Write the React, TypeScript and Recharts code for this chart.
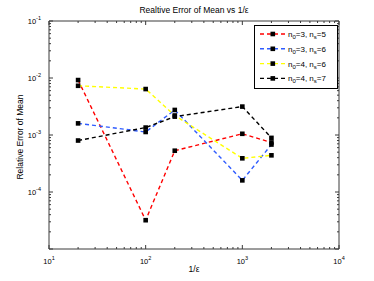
import React from 'react';
import { LineChart, Line, XAxis, YAxis, Legend } from 'recharts';

// 1/eps values (x) and relative error of mean per (n0, ns) combination
const invEps = [20, 100, 200, 1000, 2000];
const errN3S5 = [9.2e-3, 3.2e-5, 5.3e-4, 1.05e-3, 7.4e-4];
const errN3S6 = [1.6e-3, 1.13e-3, 2.75e-3, 1.6e-4, 6.8e-4];
const errN4S6 = [7.3e-3, 6.4e-3, 2.2e-3, 3.9e-4, 4.4e-4];
const errN4S7 = [8.0e-4, 1.35e-3, 2.1e-3, 3.15e-3, 8.9e-4];

const n0Values = [3, 3, 4, 4];
const nsValues = [5, 6, 6, 7];
const seriesKeys = ['s35', 's36', 's46', 's47'];
const seriesColors = ['#ff0000', '#2f5cff', '#ffff00', '#000000'];

const xMajor = [10, 100, 1000, 10000];
const yMajor = [1e-5, 1e-4, 1e-3, 1e-2, 1e-1];
const yHidden = [1e-5];

const FONT = '"Liberation Sans", Arial, Helvetica, sans-serif';
const AXIS = '#3a3a3a';

const withMinors = (majors: number[]) => {
  const out: number[] = [];
  majors.forEach((m, i) => {
    out.push(m);
    if (i < majors.length - 1) for (let k = 2; k <= 9; k++) out.push(m * k);
  });
  return out;
};
const xTicks = withMinors(xMajor);
const yTicks = withMinors(yMajor);

const isMajor = (v: number) => {
  const l = Math.log10(v);
  return Math.abs(l - Math.round(l)) < 1e-6;
};

const data = invEps.map((x, i) => ({
  x,
  s35: errN3S5[i],
  s36: errN3S6[i],
  s46: errN4S6[i],
  s47: errN4S7[i],
}));

const Pow = ({ x, y, v, anchor }: { x: number; y: number; v: number; anchor: 'middle' | 'end' }) => (
  <text x={x} y={y} textAnchor={anchor} fontSize={7.5} fontFamily={FONT} fill="#000">
    <tspan>10</tspan>
    <tspan dy={-4} fontSize={5.5}>{Math.round(Math.log10(v))}</tspan>
  </text>
);

const makeTick = (side: 'bottom' | 'top' | 'left' | 'right') => (props: any) => {
  const { x, y, payload } = props;
  const v = payload.value;
  const major = isMajor(v);
  const len = major ? 4 : 2;
  let line;
  if (side === 'bottom') line = <line x1={x} y1={y} x2={x} y2={y - len} stroke={AXIS} />;
  else if (side === 'top') line = <line x1={x} y1={y} x2={x} y2={y + len} stroke={AXIS} />;
  else if (side === 'left') line = <line x1={x} y1={y} x2={x + len} y2={y} stroke={AXIS} />;
  else line = <line x1={x} y1={y} x2={x - len} y2={y} stroke={AXIS} />;
  let label = null;
  if (major && side === 'bottom') label = <Pow x={x} y={y + 15} v={v} anchor="middle" />;
  if (major && side === 'left' && !yHidden.includes(v)) label = <Pow x={x - 8} y={y + 2.5} v={v} anchor="end" />;
  return (
    <g>
      {line}
      {label}
    </g>
  );
};

const square = (props: any) => {
  const { cx, cy, key } = props;
  if (cx == null || cy == null) return <g key={key} />;
  return <rect key={key} x={cx - 2.3} y={cy - 2.3} width={4.6} height={4.6} fill="#000" />;
};

const renderLegend = () => (
  <svg width={84} height={64} style={{ display: 'block' }}>
    <rect x={0.5} y={0.5} width={83} height={63} fill="#fff" stroke="#000" />
    {seriesColors.map((c, i) => {
      const cy = 9 + i * 14.8;
      return (
        <g key={seriesKeys[i]}>
          <line x1={6} y1={cy} x2={32} y2={cy} stroke={c} strokeWidth={1.4} strokeDasharray="4 3" />
          <rect x={16.5} y={cy - 2.3} width={4.6} height={4.6} fill="#000" />
          <text x={34} y={cy + 3} fontSize={8} fontFamily={FONT} fill="#000">
            <tspan>n</tspan>
            <tspan dy={2} fontSize={6}>0</tspan>
            <tspan dy={-2}>{`=${n0Values[i]}, n`}</tspan>
            <tspan dy={2} fontSize={6}>s</tspan>
            <tspan dy={-2}>{`=${nsValues[i]}`}</tspan>
          </text>
        </g>
      );
    })}
  </svg>
);

const yLabel = (props: any) => {
  const vb = props.viewBox;
  const cx = vb.x + 4;
  const cy = vb.y + vb.height / 2 + 2;
  return (
    <text x={cx} y={cy} transform={`rotate(-90 ${cx} ${cy})`} textAnchor="middle" fontSize={8.5} fontFamily={FONT} fill="#000">
      Relative Error of Mean
    </text>
  );
};

const xLabel = (props: any) => {
  const vb = props.viewBox;
  return (
    <text x={vb.x + vb.width / 2} y={vb.y + 23} textAnchor="middle" fontSize={8.5} fontFamily={FONT} fill="#000">
      1/ε
    </text>
  );
};

export default function App() {
  return (
    <div style={{ position: 'absolute', left: 0, top: 0, width: 374, height: 281, background: '#fff' }}>
      <div
        style={{
          position: 'absolute',
          left: 94,
          top: 5,
          width: 200,
          textAlign: 'center',
          fontFamily: FONT,
          fontSize: 8.5,
          lineHeight: '10px',
          color: '#000',
          zIndex: 2,
        }}
      >
        Realtive Error of Mean vs 1/ε
      </div>
      <LineChart width={374} height={281} data={data} margin={{ top: 20, right: 34, bottom: 12, left: 19 }}>
        <XAxis
          xAxisId="bottom"
          dataKey="x"
          type="number"
          scale="log"
          domain={[10, 10000]}
          allowDataOverflow
          ticks={xTicks}
          interval={0}
          tickSize={0}
          tickMargin={0}
          tickLine={false}
          axisLine={{ stroke: AXIS }}
          tick={makeTick('bottom')}
          height={20}
          label={xLabel}
        />
        <XAxis
          xAxisId="top"
          orientation="top"
          dataKey="x"
          type="number"
          scale="log"
          domain={[10, 10000]}
          allowDataOverflow
          ticks={xTicks}
          interval={0}
          tickSize={0}
          tickMargin={0}
          tickLine={false}
          axisLine={{ stroke: AXIS }}
          tick={makeTick('top')}
          height={1}
        />
        <YAxis
          yAxisId="left"
          type="number"
          scale="log"
          domain={[1e-5, 1e-1]}
          allowDataOverflow
          ticks={yTicks}
          interval={0}
          tickSize={0}
          tickMargin={0}
          tickLine={false}
          axisLine={{ stroke: AXIS }}
          tick={makeTick('left')}
          width={30}
          label={yLabel}
        />
        <YAxis
          yAxisId="right"
          orientation="right"
          type="number"
          scale="log"
          domain={[1e-5, 1e-1]}
          allowDataOverflow
          ticks={yTicks}
          interval={0}
          tickSize={0}
          tickMargin={0}
          tickLine={false}
          axisLine={{ stroke: AXIS }}
          tick={makeTick('right')}
          width={1}
        />
        {seriesKeys.map((k, i) => (
          <Line
            key={k}
            xAxisId="bottom"
            yAxisId="left"
            dataKey={k}
            stroke={seriesColors[i]}
            strokeWidth={1.4}
            strokeDasharray="4 3"
            dot={square}
            activeDot={false}
            isAnimationActive={false}
          />
        ))}
        <Legend
          layout="vertical"
          align="center"
          verticalAlign="middle"
          content={renderLegend}
          wrapperStyle={{ position: 'absolute', left: 254, top: 25, width: 84, height: 64 }}
        />
      </LineChart>
    </div>
  );
}
